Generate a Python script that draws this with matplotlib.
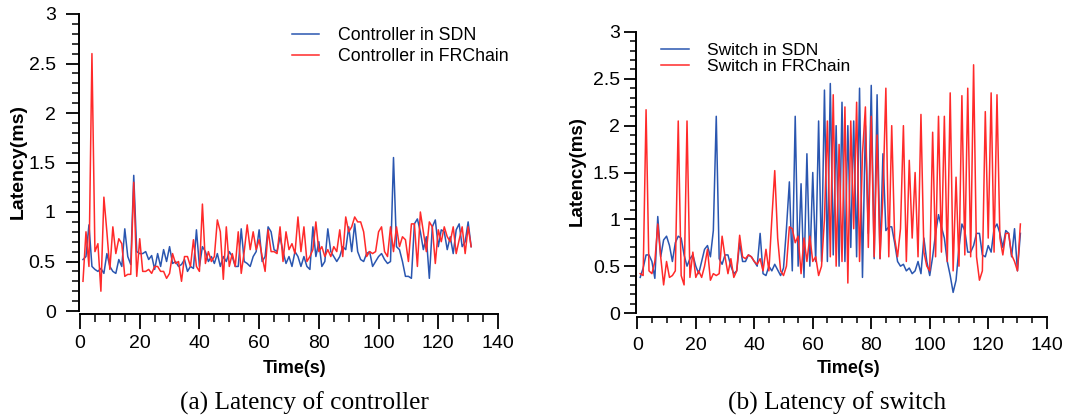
import numpy as np
import matplotlib
matplotlib.use("Agg")
import matplotlib.pyplot as plt
from matplotlib.ticker import MultipleLocator

# ---------------- data ----------------
time_s = list(range(1, 132))

ctrl_sdn = [0.52, 0.55, 0.87, 0.45, 0.42, 0.40, 0.43, 0.38, 0.58, 0.45,
            0.40, 0.38, 0.52, 0.45, 0.83, 0.55, 0.47, 1.37, 0.60, 0.58,
            0.58, 0.60, 0.52, 0.56, 0.42, 0.58, 0.45, 0.62, 0.50, 0.65,
            0.48, 0.50, 0.45, 0.47, 0.52, 0.40, 0.45, 0.43, 0.82, 0.45,
            0.65, 0.60, 0.50, 0.55, 0.48, 0.58, 0.45, 0.55, 0.50, 0.60,
            0.55, 0.45, 0.45, 0.83, 0.50, 0.48, 0.45, 0.55, 0.60, 0.82,
            0.50, 0.55, 0.85, 0.80, 0.62, 0.60, 0.75, 0.60, 0.48, 0.55,
            0.45, 0.60, 0.55, 0.45, 0.55, 0.45, 0.42, 0.85, 0.55, 0.70,
            0.45, 0.50, 0.83, 0.60, 0.55, 0.50, 0.55, 0.65, 0.62, 0.85,
            0.60, 0.88, 0.60, 0.52, 0.50, 0.58, 0.60, 0.45, 0.50, 0.55,
            0.58, 0.52, 0.48, 0.50, 1.55, 0.65, 0.62, 0.50, 0.35, 0.35,
            0.33, 0.88, 0.93, 0.80, 0.62, 0.75, 0.33, 0.85, 0.92, 0.65,
            0.82, 0.80, 0.62, 0.75, 0.58, 0.82, 0.88, 0.65, 0.70, 0.90,
            0.65]

ctrl_frchain = [0.30, 0.80, 0.45, 2.60, 0.60, 0.68, 0.20, 1.15, 0.80, 0.42,
                0.85, 0.58, 0.73, 0.68, 0.35, 0.37, 0.37, 1.30, 0.35, 0.73,
                0.40, 0.40, 0.42, 0.38, 0.45, 0.45, 0.40, 0.40, 0.33, 0.38,
                0.58, 0.48, 0.50, 0.30, 0.55, 0.55, 0.45, 0.72, 0.45, 0.40,
                1.08, 0.48, 0.60, 0.50, 0.55, 0.92, 0.80, 0.32, 0.85, 0.45,
                0.58, 0.45, 0.80, 0.38, 0.60, 0.87, 0.62, 0.80, 0.62, 0.72,
                0.55, 0.40, 0.82, 0.60, 0.60, 0.58, 0.85, 0.50, 0.80, 0.62,
                0.68, 0.58, 0.95, 0.60, 0.85, 0.50, 0.55, 0.62, 0.90, 0.60,
                0.65, 0.55, 0.62, 0.55, 0.65, 0.60, 0.82, 0.55, 0.95, 0.80,
                0.85, 0.95, 0.90, 0.90, 0.80, 0.55, 0.60, 0.58, 0.60, 0.80,
                0.85, 0.60, 0.55, 0.85, 0.60, 0.85, 0.65, 0.75, 0.72, 0.50,
                0.88, 0.88, 0.45, 1.00, 0.80, 0.60, 0.90, 0.85, 0.48, 0.82,
                0.70, 0.85, 0.75, 0.70, 0.85, 0.58, 0.72, 0.85, 0.58, 0.85,
                0.65]

sw_sdn = [0.38, 0.48, 0.62, 0.62, 0.55, 0.37, 1.03, 0.60, 0.78, 0.82,
          0.72, 0.55, 0.75, 0.82, 0.80, 0.62, 0.50, 0.58, 0.62, 0.50,
          0.42, 0.55, 0.68, 0.72, 0.60, 0.88, 2.10, 0.58, 0.52, 0.62,
          0.62, 0.50, 0.42, 0.45, 0.75, 0.55, 0.55, 0.62, 0.60, 0.55,
          0.50, 0.85, 0.42, 0.40, 0.50, 0.45, 0.52, 0.46, 0.40, 0.48,
          0.90, 1.40, 0.45, 2.10, 0.50, 1.38, 0.38, 1.70, 0.50, 1.50,
          0.55, 2.05, 0.55, 2.38, 0.55, 2.45, 0.62, 2.00, 0.50, 2.25,
          0.55, 2.00, 0.70, 2.05, 0.60, 2.40, 0.38, 2.00, 0.85, 2.43,
          0.58, 2.33, 0.58, 1.70, 0.88, 0.92, 0.92, 0.75, 0.55, 0.50,
          0.52, 0.45, 0.48, 0.42, 0.45, 0.55, 0.42, 0.80, 0.55, 0.40,
          0.60, 0.85, 1.05, 0.92, 0.80, 0.55, 0.40, 0.22, 0.35, 0.70,
          0.95, 0.88, 0.65, 0.65, 0.72, 0.85, 0.85, 0.62, 0.60, 0.72,
          0.65, 0.90, 0.95, 0.85, 0.70, 0.88, 0.85, 0.60, 0.90, 0.45,
          0.85]

sw_frchain = [0.42, 0.40, 2.17, 0.45, 0.42, 0.55, 0.95, 0.60, 0.30, 0.55,
              0.38, 0.40, 0.45, 2.05, 0.40, 0.30, 2.05, 0.38, 0.65, 0.38,
              0.45, 0.38, 0.50, 0.68, 0.35, 0.42, 0.40, 0.42, 0.82, 0.60,
              0.42, 0.58, 0.38, 0.45, 0.83, 0.60, 0.58, 0.62, 0.60, 0.55,
              0.52, 0.58, 0.45, 0.68, 0.45, 1.00, 1.52, 0.80, 0.45, 0.40,
              0.50, 0.92, 0.90, 0.75, 0.82, 0.42, 0.80, 0.55, 0.82, 0.55,
              0.60, 0.40, 0.50, 1.00, 2.05, 0.60, 2.33, 0.50, 1.80, 0.55,
              2.20, 0.32, 2.05, 0.90, 2.25, 0.55, 1.70, 2.20, 0.70, 2.10,
              0.60, 1.90, 0.58, 1.25, 2.40, 0.60, 2.00, 0.80, 0.60, 0.90,
              2.00, 0.55, 1.63, 0.80, 1.50, 0.60, 2.12, 0.65, 0.50, 0.45,
              1.93, 0.60, 2.10, 0.65, 2.10, 0.55, 2.35, 0.45, 1.45, 0.50,
              2.32, 0.62, 2.40, 0.60, 2.65, 0.60, 0.35, 0.45, 2.15, 0.80,
              2.35, 0.65, 2.33, 0.80, 0.62, 0.85, 0.85, 0.62, 0.55, 0.45,
              0.95]

labels_a = ["Controller in SDN", "Controller in FRChain"]
labels_b = ["Switch in SDN", "Switch in FRChain"]
captions = ["(a) Latency of controller", "(b) Latency of switch"]
xlabel = "Time(s)"
ylabel = "Latency(ms)"

# ---------------- style ----------------
W, H = 1091, 420
BLUE = "#2a56b0"
RED = "#ff2a2a"
SANS = ["Liberation Sans", "DejaVu Sans"]
SERIF = ["Liberation Serif", "DejaVu Serif"]
plt.rcParams["font.family"] = SANS

fig = plt.figure(figsize=(W / 100, H / 100), dpi=100)


def px_axes(x0, x1, y_top, y_bot):
    return fig.add_axes([x0 / W, 1 - y_bot / H, (x1 - x0) / W, (y_bot - y_top) / H])


def style(ax, ytick_len, ypad, xtick_len, xpad, left_off, bot_off):
    ax.set_xlim(0, 140)
    ax.set_ylim(0, 3)
    for s in ("top", "right"):
        ax.spines[s].set_visible(False)
    ax.spines["left"].set_position(("outward", left_off))
    ax.spines["bottom"].set_position(("outward", bot_off))
    for s in ("left", "bottom"):
        ax.spines[s].set_linewidth(1.4)
    ax.xaxis.set_major_locator(MultipleLocator(20))
    ax.xaxis.set_minor_locator(MultipleLocator(5))
    ax.yaxis.set_major_locator(MultipleLocator(0.5))
    ax.yaxis.set_minor_locator(MultipleLocator(0.1))
    ax.yaxis.set_major_formatter(plt.FuncFormatter(lambda v, p: f"{v:g}"))
    ax.tick_params(axis="y", which="major", direction="out", length=ytick_len,
                   width=1.3, pad=ypad, labelsize=14)
    ax.tick_params(axis="y", which="minor", direction="out", length=ytick_len * 0.55,
                   width=1.1)
    ax.tick_params(axis="x", which="major", direction="out", length=xtick_len,
                   width=1.3, pad=xpad, labelsize=14)
    ax.tick_params(axis="x", which="minor", direction="out", length=xtick_len * 0.55,
                   width=1.1)


# ---- panel (a) ----
ax1 = px_axes(80, 498, 14, 311)
ax1.plot(time_s, ctrl_sdn, color=BLUE, lw=1.1, label=labels_a[0])
ax1.plot(time_s, ctrl_frchain, color=RED, lw=1.1, label=labels_a[1])
style(ax1, ytick_len=9.5, ypad=7, xtick_len=10.5, xpad=5, left_off=1, bot_off=2)
ax1.text(-0.148, 0.502, ylabel, transform=ax1.transAxes, rotation=90,
         ha="center", va="center", fontsize=14, fontweight="bold")
ax1.text(0.514, -0.195, xlabel, transform=ax1.transAxes,
         ha="center", va="center", fontsize=13, fontweight="bold")
ax1.legend(loc="upper left", bbox_to_anchor=(0.507, 0.956), frameon=False,
           fontsize=12.8, handlelength=1.55, handletextpad=1.05,
           borderpad=0, borderaxespad=0, labelspacing=0.22)

# ---- panel (b) ----
ax2 = px_axes(637.3, 1046.7, 32, 313)
ax2.plot(time_s, sw_sdn, color=BLUE, lw=1.1, label=labels_b[0])
ax2.plot(time_s, sw_frchain, color=RED, lw=1.1, label=labels_b[1])
style(ax2, ytick_len=8.5, ypad=3, xtick_len=8.5, xpad=6, left_off=1, bot_off=3)
ax2.text(-0.147, 0.505, ylabel, transform=ax2.transAxes, rotation=90,
         ha="center", va="center", fontsize=13.5, fontweight="bold")
ax2.text(0.515, -0.196, xlabel, transform=ax2.transAxes,
         ha="center", va="center", fontsize=13, fontweight="bold")
ax2.legend(loc="upper left", bbox_to_anchor=(0.058, 0.961), frameon=False,
           fontsize=12.5, handlelength=1.6, handletextpad=1.05,
           borderpad=0, borderaxespad=0, labelspacing=0.05)

# ---- captions ----
fig.text(304 / W, 1 - 403 / H, captions[0], ha="center", va="center",
         fontsize=18.3, family=SERIF)
fig.text(837 / W, 1 - 403 / H, captions[1], ha="center", va="center",
         fontsize=18.3, family=SERIF)

fig.savefig("out.png", dpi=100)
